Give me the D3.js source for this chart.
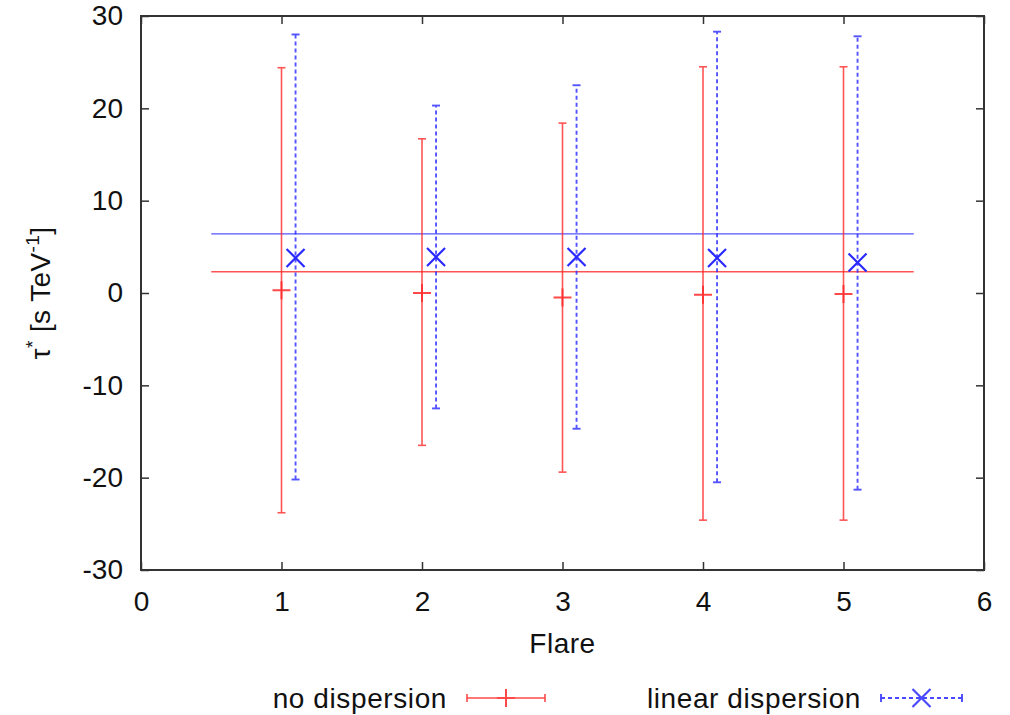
<!DOCTYPE html>
<html>
<head>
<meta charset="utf-8">
<script src="https://cdn.jsdelivr.net/npm/d3@7"></script>
<style>
  body { margin: 0; background: #fff; }
  text { font-family: "Liberation Sans", Arial, sans-serif; fill: #111; }
</style>
</head>
<body>
<div id="chart"></div>
<script>
// per-flare fits of tau* (s/TeV)
const flares = [1, 2, 3, 4, 5];
const noDisp = [0.3, 0.0, -0.5, -0.2, -0.1];
const noDispLow = [-23.8, -16.5, -19.4, -24.6, -24.6];
const noDispHigh = [24.4, 16.7, 18.4, 24.5, 24.5];
const linDisp = [3.8, 3.9, 3.9, 3.8, 3.3];
const linDispLow = [-20.2, -12.5, -14.7, -20.5, -21.3];
const linDispHigh = [28.0, 20.3, 22.5, 28.3, 27.8];
// weighted means, drawn over flares 0.5 .. 5.5
const meanRange = [0.5, 5.5];
const noDispMean = 2.3;
const linDispMean = 6.4;
const xTicks = [0, 1, 2, 3, 4, 5, 6];
const yTicks = [-30, -20, -10, 0, 10, 20, 30];

const WIDTH = 1010, HEIGHT = 715;
const margin = {left: 141, right: 26, top: 16, bottom: 145};
const RED = "#ff2a2a", BLUE = "#2a2aff";
const FONT = 28;

const svg = d3.select("#chart").append("svg")
  .attr("width", WIDTH)
  .attr("height", HEIGHT);

const x = d3.scaleLinear().domain([0, 6]).range([margin.left, WIDTH - margin.right]);
const y = d3.scaleLinear().domain([-30, 30]).range([HEIGHT - margin.bottom, margin.top]);

const TICK = 8;
const fmt = d => String(d); // plain hyphen for negatives
// axes with inward ticks, mirrored on the opposite sides
function styleAxis(g) {
  g.select(".domain").remove();
  g.selectAll("line").attr("stroke", "#333").attr("stroke-width", 1.5);
  g.selectAll("text").style("font-size", FONT + "px").attr("fill", "#111");
}
svg.append("g")
  .attr("transform", `translate(0,${y(-30)})`)
  .call(d3.axisBottom(x).tickValues(xTicks).tickSize(-TICK).tickPadding(21).tickFormat(fmt))
  .call(styleAxis);
svg.append("g")
  .attr("transform", `translate(0,${y(30)})`)
  .call(d3.axisTop(x).tickValues(xTicks).tickSize(-TICK).tickFormat(""))
  .call(styleAxis);
svg.append("g")
  .attr("transform", `translate(${x(0)},0)`)
  .call(d3.axisLeft(y).tickValues(yTicks).tickSize(-TICK).tickPadding(18).tickFormat(fmt))
  .call(styleAxis);
svg.append("g")
  .attr("transform", `translate(${x(6)},0)`)
  .call(d3.axisRight(y).tickValues(yTicks).tickSize(-TICK).tickFormat(""))
  .call(styleAxis);

svg.append("rect")
  .attr("x", x(0)).attr("y", y(30))
  .attr("width", x(6) - x(0)).attr("height", y(-30) - y(30))
  .attr("fill", "none").attr("stroke", "#333").attr("stroke-width", 2);

// mean lines
svg.append("line")
  .attr("x1", x(meanRange[0])).attr("x2", x(meanRange[1]))
  .attr("y1", y(noDispMean)).attr("y2", y(noDispMean))
  .attr("stroke", RED).attr("stroke-width", 1.4).attr("opacity", 0.8);
svg.append("line")
  .attr("x1", x(meanRange[0])).attr("x2", x(meanRange[1]))
  .attr("y1", y(linDispMean)).attr("y2", y(linDispMean))
  .attr("stroke", BLUE).attr("stroke-width", 1.4).attr("opacity", 0.8);

const CAP = 4;
const noDispData = flares.map((f, i) => ({x: f, v: noDisp[i], lo: noDispLow[i], hi: noDispHigh[i]}));
const linDispData = flares.map((f, i) => ({x: f + 0.1, v: linDisp[i], lo: linDispLow[i], hi: linDispHigh[i]}));

function errorBars(data, color, dash, width, cls) {
  const g = svg.append("g").attr("class", cls)
    .attr("stroke", color).attr("stroke-width", width).attr("fill", "none")
    .attr("opacity", 0.8);
  g.selectAll(".bar").data(data).join("line")
    .attr("class", "bar")
    .attr("x1", d => x(d.x)).attr("x2", d => x(d.x))
    .attr("y1", d => y(d.lo)).attr("y2", d => y(d.hi))
    .attr("stroke-dasharray", dash);
  ["lo", "hi"].forEach(k => {
    g.selectAll(".cap-" + k).data(data).join("line")
      .attr("class", "cap-" + k)
      .attr("x1", d => x(d.x) - CAP).attr("x2", d => x(d.x) + CAP)
      .attr("y1", d => y(d[k])).attr("y2", d => y(d[k]));
  });
  return g;
}
errorBars(noDispData, RED, null, 1.6, "no-disp");
errorBars(linDispData, BLUE, "4,3", 1.9, "lin-disp");

// point markers
const PLUS = 9, CROSS = 9;
svg.append("g").selectAll("path").data(noDispData).join("path")
  .attr("d", d => `M${x(d.x) - PLUS},${y(d.v)}h${2 * PLUS}M${x(d.x)},${y(d.v) - PLUS}v${2 * PLUS}`)
  .attr("stroke", RED).attr("stroke-width", 2).attr("opacity", 0.85);
svg.append("g").selectAll("path").data(linDispData).join("path")
  .attr("d", d => {
    const cx = x(d.x), cy = y(d.v);
    return `M${cx - CROSS},${cy - CROSS}L${cx + CROSS},${cy + CROSS}M${cx - CROSS},${cy + CROSS}L${cx + CROSS},${cy - CROSS}`;
  })
  .attr("stroke", BLUE).attr("stroke-width", 2.2);

// axis titles
svg.append("text")
  .attr("x", x(3)).attr("y", 653)
  .attr("text-anchor", "middle")
  .style("font-size", FONT + "px")
  .style("letter-spacing", "0.5px")
  .text("Flare");

const yTitle = svg.append("text")
  .attr("transform", `translate(50,${y(0)}) rotate(-90)`)
  .attr("text-anchor", "middle")
  .style("font-size", FONT + "px")
  .style("letter-spacing", "0.4px");
yTitle.append("tspan").text("τ");
yTitle.append("tspan").attr("dy", -11).style("font-size", "19px").text("*");
yTitle.append("tspan").attr("dy", 11).text(" [s TeV");
yTitle.append("tspan").attr("dy", -11).style("font-size", "19px").text("-1");
yTitle.append("tspan").attr("dy", 11).text("]");

// legend
const legendY = 698;
const legend = [
  {label: "no dispersion", color: RED, dash: null, width: 1.6, marker: "plus", x0: 467, x1: 545},
  {label: "linear dispersion", color: BLUE, dash: "4,3", width: 1.9, marker: "cross", x0: 881, x1: 962}
];
legend.forEach(l => {
  svg.append("text")
    .attr("x", l.x0 - 20).attr("y", legendY + 10)
    .attr("text-anchor", "end")
    .style("font-size", FONT + "px")
    .style("letter-spacing", "0.6px")
    .text(l.label);
  const g = svg.append("g").attr("stroke", l.color).attr("fill", "none").attr("opacity", 0.85);
  g.append("line").attr("x1", l.x0).attr("x2", l.x1).attr("y1", legendY).attr("y2", legendY)
    .attr("stroke-width", l.width).attr("stroke-dasharray", l.dash);
  [l.x0, l.x1].forEach(cx => g.append("line")
    .attr("x1", cx).attr("x2", cx).attr("y1", legendY - CAP).attr("y2", legendY + CAP)
    .attr("stroke-width", l.width));
  const mx = (l.x0 + l.x1) / 2;
  if (l.marker === "plus") {
    g.append("path").attr("d", `M${mx - PLUS},${legendY}h${2 * PLUS}M${mx},${legendY - PLUS}v${2 * PLUS}`)
      .attr("stroke-width", 2);
  } else {
    g.append("path").attr("d", `M${mx - CROSS},${legendY - CROSS}L${mx + CROSS},${legendY + CROSS}M${mx - CROSS},${legendY + CROSS}L${mx + CROSS},${legendY - CROSS}`)
      .attr("stroke-width", 2.2);
  }
});
</script>
</body>
</html>
